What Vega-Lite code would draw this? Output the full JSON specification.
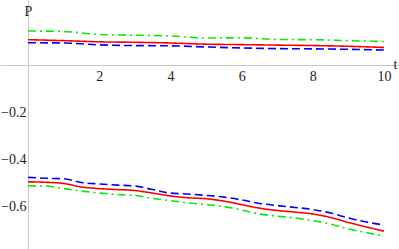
{
  "$schema": "https://vega.github.io/schema/vega-lite/v6.json",
  "width": 399,
  "height": 249,
  "autosize": "none",
  "padding": 0,
  "background": "white",
  "config": {"view": {"stroke": null}},
  "datasets": {
    "curves": [
      {"t":0,"P":-0.497,"kind":"r","grp":"low"},{"t":0.5,"P":-0.499,"kind":"r","grp":"low"},{"t":1,"P":-0.504,"kind":"r","grp":"low"},{"t":1.5,"P":-0.519,"kind":"r","grp":"low"},{"t":2,"P":-0.526,"kind":"r","grp":"low"},{"t":2.5,"P":-0.530,"kind":"r","grp":"low"},{"t":3,"P":-0.534,"kind":"r","grp":"low"},{"t":3.5,"P":-0.545,"kind":"r","grp":"low"},{"t":4,"P":-0.557,"kind":"r","grp":"low"},{"t":4.5,"P":-0.565,"kind":"r","grp":"low"},{"t":5,"P":-0.569,"kind":"r","grp":"low"},{"t":5.5,"P":-0.579,"kind":"r","grp":"low"},{"t":6,"P":-0.594,"kind":"r","grp":"low"},{"t":6.5,"P":-0.609,"kind":"r","grp":"low"},{"t":7,"P":-0.619,"kind":"r","grp":"low"},{"t":7.5,"P":-0.626,"kind":"r","grp":"low"},{"t":8,"P":-0.634,"kind":"r","grp":"low"},{"t":8.5,"P":-0.649,"kind":"r","grp":"low"},{"t":9,"P":-0.670,"kind":"r","grp":"low"},{"t":9.5,"P":-0.689,"kind":"r","grp":"low"},{"t":10,"P":-0.707,"kind":"r","grp":"low"},
      {"t":0,"P":-0.478,"kind":"b","grp":"low"},{"t":0.5,"P":-0.482,"kind":"b","grp":"low"},{"t":1,"P":-0.484,"kind":"b","grp":"low"},{"t":1.5,"P":-0.500,"kind":"b","grp":"low"},{"t":2,"P":-0.506,"kind":"b","grp":"low"},{"t":2.5,"P":-0.511,"kind":"b","grp":"low"},{"t":3,"P":-0.515,"kind":"b","grp":"low"},{"t":3.5,"P":-0.530,"kind":"b","grp":"low"},{"t":4,"P":-0.545,"kind":"b","grp":"low"},{"t":4.5,"P":-0.549,"kind":"b","grp":"low"},{"t":5,"P":-0.555,"kind":"b","grp":"low"},{"t":5.5,"P":-0.562,"kind":"b","grp":"low"},{"t":6,"P":-0.574,"kind":"b","grp":"low"},{"t":6.5,"P":-0.589,"kind":"b","grp":"low"},{"t":7,"P":-0.598,"kind":"b","grp":"low"},{"t":7.5,"P":-0.606,"kind":"b","grp":"low"},{"t":8,"P":-0.615,"kind":"b","grp":"low"},{"t":8.5,"P":-0.630,"kind":"b","grp":"low"},{"t":9,"P":-0.651,"kind":"b","grp":"low"},{"t":9.5,"P":-0.668,"kind":"b","grp":"low"},{"t":10,"P":-0.681,"kind":"b","grp":"low"},
      {"t":0,"P":-0.514,"kind":"g","grp":"low"},{"t":0.5,"P":-0.515,"kind":"g","grp":"low"},{"t":1,"P":-0.526,"kind":"g","grp":"low"},{"t":1.5,"P":-0.536,"kind":"g","grp":"low"},{"t":2,"P":-0.545,"kind":"g","grp":"low"},{"t":2.5,"P":-0.551,"kind":"g","grp":"low"},{"t":3,"P":-0.555,"kind":"g","grp":"low"},{"t":3.5,"P":-0.568,"kind":"g","grp":"low"},{"t":4,"P":-0.577,"kind":"g","grp":"low"},{"t":4.5,"P":-0.587,"kind":"g","grp":"low"},{"t":5,"P":-0.594,"kind":"g","grp":"low"},{"t":5.5,"P":-0.602,"kind":"g","grp":"low"},{"t":6,"P":-0.617,"kind":"g","grp":"low"},{"t":6.5,"P":-0.634,"kind":"g","grp":"low"},{"t":7,"P":-0.643,"kind":"g","grp":"low"},{"t":7.5,"P":-0.651,"kind":"g","grp":"low"},{"t":8,"P":-0.662,"kind":"g","grp":"low"},{"t":8.5,"P":-0.677,"kind":"g","grp":"low"},{"t":9,"P":-0.698,"kind":"g","grp":"low"},{"t":9.5,"P":-0.713,"kind":"g","grp":"low"},{"t":10,"P":-0.728,"kind":"g","grp":"low"},
      {"t":0,"P":0.145,"kind":"g","grp":"high"},{"t":1,"P":0.143,"kind":"g","grp":"high"},{"t":2,"P":0.130,"kind":"g","grp":"high"},{"t":3,"P":0.127,"kind":"g","grp":"high"},{"t":4,"P":0.124,"kind":"g","grp":"high"},{"t":5,"P":0.115,"kind":"g","grp":"high"},{"t":6,"P":0.116,"kind":"g","grp":"high"},{"t":7,"P":0.109,"kind":"g","grp":"high"},{"t":8,"P":0.108,"kind":"g","grp":"high"},{"t":9,"P":0.104,"kind":"g","grp":"high"},{"t":10,"P":0.100,"kind":"g","grp":"high"},
      {"t":0,"P":0.108,"kind":"r","grp":"high"},{"t":1,"P":0.104,"kind":"r","grp":"high"},{"t":2,"P":0.099,"kind":"r","grp":"high"},{"t":3,"P":0.097,"kind":"r","grp":"high"},{"t":4,"P":0.094,"kind":"r","grp":"high"},{"t":5,"P":0.089,"kind":"r","grp":"high"},{"t":6,"P":0.087,"kind":"r","grp":"high"},{"t":7,"P":0.085,"kind":"r","grp":"high"},{"t":8,"P":0.083,"kind":"r","grp":"high"},{"t":9,"P":0.080,"kind":"r","grp":"high"},{"t":10,"P":0.075,"kind":"r","grp":"high"},
      {"t":0,"P":0.095,"kind":"b","grp":"high"},{"t":1,"P":0.094,"kind":"b","grp":"high"},{"t":2,"P":0.086,"kind":"b","grp":"high"},{"t":3,"P":0.083,"kind":"b","grp":"high"},{"t":4,"P":0.082,"kind":"b","grp":"high"},{"t":5,"P":0.077,"kind":"b","grp":"high"},{"t":6,"P":0.073,"kind":"b","grp":"high"},{"t":7,"P":0.070,"kind":"b","grp":"high"},{"t":8,"P":0.069,"kind":"b","grp":"high"},{"t":9,"P":0.067,"kind":"b","grp":"high"},{"t":10,"P":0.064,"kind":"b","grp":"high"}
    ]
  },
  "data": {"name": "curves"},
  "mark": {"type": "line", "interpolate": "monotone", "strokeWidth": 1.6, "clip": true},
  "encoding": {
    "x": {
      "field": "t", "type": "quantitative",
      "scale": {"domain": [-0.787, 10.42], "nice": false, "zero": false},
      "axis": {
        "orient": "bottom", "offset": -184,
        "values": [2, 4, 6, 8, 10], "format": "d",
        "grid": false, "ticks": false,
        "domainColor": "#c8c8c8", "domainWidth": 1,
        "labelFont": "Liberation Serif", "labelFontSize": 14, "labelColor": "#222222",
        "labelPadding": 4, "labelBaseline": "top",
        "title": "t", "titleFont": "Liberation Serif", "titleFontSize": 14, "titleFontWeight": "normal",
        "titleColor": "#222222", "titleX": 395, "titleY": 3, "titleAlign": "center", "titleBaseline": "alphabetic", "titleAngle": 0
      }
    },
    "y": {
      "field": "P", "type": "quantitative",
      "scale": {"domain": [-0.783, 0.277], "nice": false, "zero": false},
      "axis": {
        "orient": "left", "offset": -28,
        "values": [-0.2, -0.4, -0.6], "format": ".1f",
        "grid": false, "ticks": false,
        "domainColor": "#c8c8c8", "domainWidth": 1,
        "labelFont": "Liberation Serif", "labelFontSize": 14, "labelColor": "#222222",
        "labelPadding": 2,
        "title": "P", "titleFont": "Liberation Serif", "titleFontSize": 14, "titleFontWeight": "normal",
        "titleColor": "#222222", "titleX": 0, "titleY": 15, "titleAlign": "center", "titleBaseline": "alphabetic", "titleAngle": 0
      }
    },
    "color": {
      "field": "kind", "type": "nominal", "legend": null,
      "scale": {"domain": ["r", "b", "g"], "range": ["#ff0000", "#0000ff", "#00ee00"]}
    },
    "strokeDash": {
      "field": "kind", "type": "nominal", "legend": null,
      "scale": {"domain": ["r", "b", "g"], "range": [[1, 0], [8, 4], [8, 4, 2, 4]]}
    },
    "detail": {"field": "grp", "type": "nominal"}
  }
}
